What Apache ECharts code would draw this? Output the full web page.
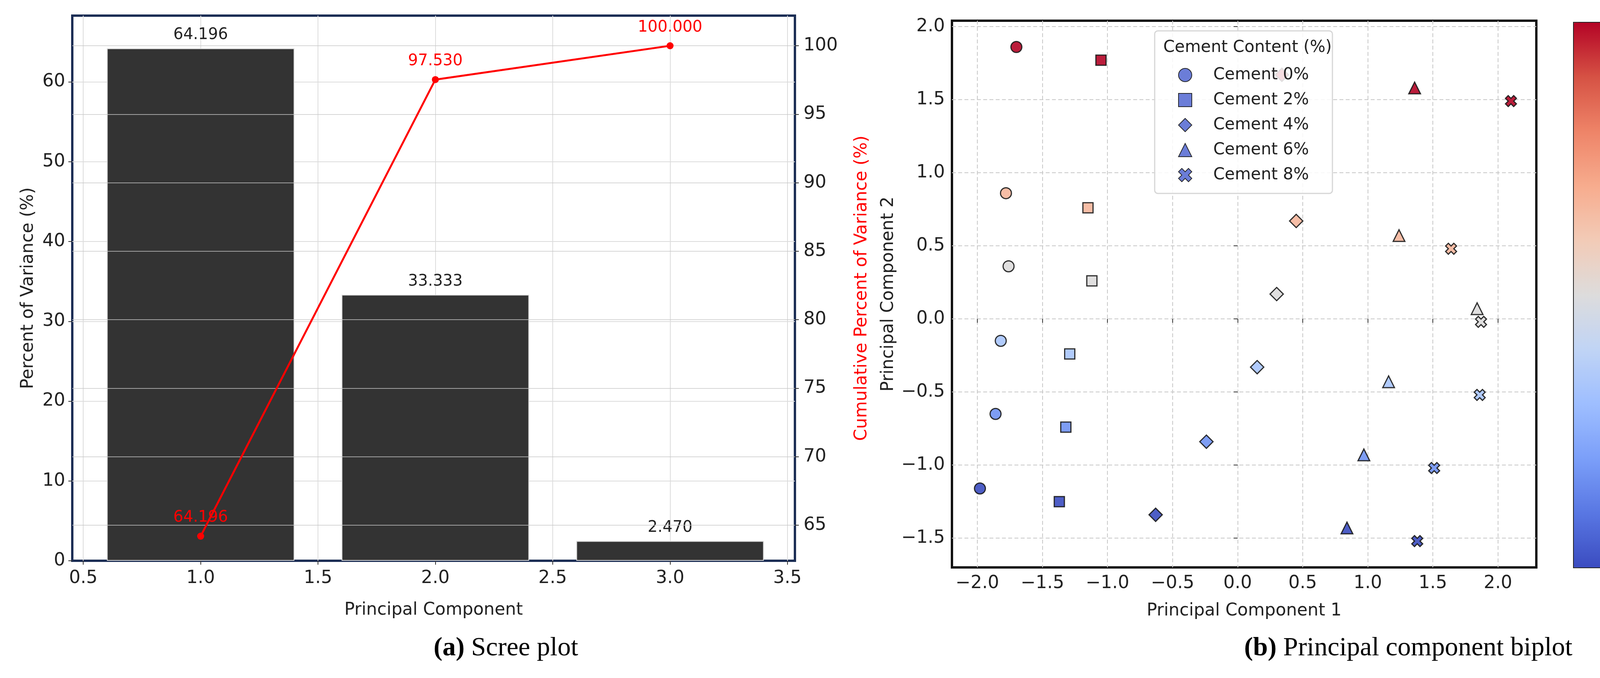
<!DOCTYPE html>
<html>
<head>
<meta charset="utf-8">
<script src="https://cdn.jsdelivr.net/npm/echarts@6/dist/echarts.min.js"></script>
<style>
html, body { margin: 0; padding: 0; background: #fff; overflow: hidden; }
#chart { width: 4270px; height: 1735px; }
</style>
</head>
<body>
<div id="chart"></div>
<script>
// scree plot
var components = [1, 2, 3]
var variance = [64.196, 33.333, 2.470]
var cumulative = [64.196, 97.530, 100.000]

// biplot: [PC1, PC2], one row per lime level
var limeLevels = [0, 5, 10, 15, 20, 30]
var cementNames = ['Cement 0%', 'Cement 2%', 'Cement 4%', 'Cement 6%', 'Cement 8%']
var cement0 = [[-1.98, -1.16], [-1.86, -0.65], [-1.82, -0.15], [-1.76, 0.36], [-1.78, 0.86], [-1.70, 1.86]]
var cement2 = [[-1.37, -1.25], [-1.32, -0.74], [-1.29, -0.24], [-1.12, 0.26], [-1.15, 0.76], [-1.05, 1.77]]
var cement4 = [[-0.63, -1.34], [-0.24, -0.84], [0.15, -0.33], [0.30, 0.17], [0.45, 0.67], [0.34, 1.67]]
var cement6 = [[0.84, -1.43], [0.97, -0.93], [1.16, -0.43], [1.84, 0.07], [1.24, 0.57], [1.36, 1.58]]
var cement8 = [[1.38, -1.52], [1.51, -1.02], [1.86, -0.52], [1.87, -0.02], [1.64, 0.48], [2.10, 1.49]]

var crossPath = 'path://M2.5,0L5,2.5L7.5,0L10,2.5L7.5,5L10,7.5L7.5,10L5,7.5L2.5,10L0,7.5L2.5,5L0,2.5Z'
var symbols = ['circle', 'rect', 'diamond', 'triangle', crossPath]
var sizes = [28, 26, 34, 30, 28]
var coolwarm = ['#3b4cc0', '#5977e3', '#7b9ff9', '#9ebeff', '#c0d4f5', '#dddcdc',
    '#f2cbb7', '#f7ac8e', '#ee8468', '#d65244', '#b40426']

var font = 'DejaVu Sans'
var txt = '#222'

var withLime = function(pts) {
    var out = []
    for (var i = 0; i < pts.length; i++) {
        out.push([pts[i][0], pts[i][1], limeLevels[i]])
    }
    return out
}
var fix1 = function(v) { return v.toFixed(1).replace('-', '\u2212') }

var gridLine = { show: true, showMinLine: false, showMaxLine: false, lineStyle: { color: '#dcdcdc', width: 2 } }
var dashLine = { show: true, showMinLine: false, showMaxLine: false, lineStyle: { color: '#c8c8c8', width: 2, type: [10, 6] } }
var tick = { show: true, length: 10, lineStyle: { color: '#333', width: 2 } }
var nameStyle = { fontFamily: font, fontSize: 44, color: txt }

var scatterSeries = []
var groups = [cement0, cement2, cement4, cement6, cement8]
for (var g = 0; g < groups.length; g++) {
    scatterSeries.push({
        name: cementNames[g],
        type: 'scatter',
        xAxisIndex: 1,
        yAxisIndex: 2,
        symbol: symbols[g],
        symbolSize: sizes[g],
        itemStyle: { color: '#5b6fd4', borderColor: '#1a1a1a', borderWidth: 3, opacity: 0.9 },
        data: withLime(groups[g]),
        z: 3
    })
}

var barData = [], lineData = []
for (var i = 0; i < components.length; i++) {
    barData.push([components[i], variance[i]])
    lineData.push([components[i], cumulative[i]])
}

var option = {
    backgroundColor: '#fff',
    animation: false,
    textStyle: { fontFamily: font },
    grid: [
        { left: 185, top: 40, width: 1850, height: 1395, show: true, borderColor: '#1c2e55', borderWidth: 6 },
        { left: 2437, top: 53, width: 1496, height: 1399, show: true, borderColor: '#111', borderWidth: 6 },
        { left: 4029, top: 58, width: 72, height: 1394, show: true, borderColor: '#222', borderWidth: 4 }
    ],
    xAxis: [
        {
            gridIndex: 0, type: 'value', min: 0.453, max: 3.532, splitNumber: 6,
            name: 'Principal Component', nameLocation: 'middle', nameGap: 105, nameTextStyle: nameStyle,
            axisLine: { show: false }, axisTick: tick,
            axisLabel: { fontFamily: font, fontSize: 46, color: txt, margin: 22, showMinLabel: false, showMaxLabel: false, formatter: fix1 },
            splitLine: gridLine
        },
        {
            gridIndex: 1, type: 'value', min: -2.195, max: 2.295, splitNumber: 9,
            name: 'Principal Component 1', nameLocation: 'middle', nameGap: 90, nameTextStyle: nameStyle,
            axisLine: { show: false }, axisTick: tick,
            axisLabel: { fontFamily: font, fontSize: 46, color: txt, margin: 18, showMinLabel: false, showMaxLabel: false, formatter: fix1 },
            splitLine: dashLine
        },
        { gridIndex: 2, type: 'value', show: false }
    ],
    yAxis: [
        {
            gridIndex: 0, type: 'value', min: 0, max: 68.3, splitNumber: 7,
            name: 'Percent of Variance (%)', nameLocation: 'middle', nameGap: 90, nameTextStyle: nameStyle,
            axisLine: { show: false }, axisTick: tick,
            axisLabel: { fontFamily: font, fontSize: 46, color: txt, margin: 18, showMaxLabel: false },
            splitLine: gridLine
        },
        {
            gridIndex: 0, type: 'value', position: 'right', min: 62.4, max: 102.2, splitNumber: 8,
            name: 'Cumulative Percent of Variance (%)', nameLocation: 'middle', nameGap: 150, nameRotate: 90,
            nameTextStyle: { fontFamily: font, fontSize: 44, color: '#ff0000' },
            axisLine: { show: false }, axisTick: tick,
            axisLabel: { fontFamily: font, fontSize: 46, color: txt, margin: 22, showMinLabel: false, showMaxLabel: false },
            splitLine: { show: true, showMinLine: false, showMaxLine: false, lineStyle: { color: 'rgba(200,200,200,0.75)', width: 2 } },
            z: 5
        },
        {
            gridIndex: 1, type: 'value', min: -1.70, max: 2.04, splitNumber: 8,
            name: 'Principal Component 2', nameLocation: 'middle', nameGap: 140, nameTextStyle: nameStyle,
            axisLine: { show: false }, axisTick: tick,
            axisLabel: { fontFamily: font, fontSize: 46, color: txt, margin: 18, showMinLabel: false, showMaxLabel: false, formatter: fix1 },
            splitLine: dashLine
        },
        {
            gridIndex: 2, type: 'value', position: 'right', min: 0, max: 30, splitNumber: 6,
            name: 'Lime Content (%)', nameLocation: 'middle', nameGap: 130, nameRotate: 90, nameTextStyle: nameStyle,
            axisLine: { show: false }, axisTick: { show: true, length: 12, lineStyle: { color: '#333', width: 2 } },
            axisLabel: { fontFamily: font, fontSize: 46, color: txt, margin: 22 },
            splitLine: { show: false }
        }
    ],
    visualMap: {
        type: 'continuous', min: 0, max: 30, dimension: 2,
        seriesIndex: [2, 3, 4, 5, 6],
        left: 4029, top: 58, itemWidth: 72, itemHeight: 1394, padding: 0,
        calculable: false, text: null, showLabel: false,
        inRange: { color: coolwarm },
        textStyle: { color: 'transparent' }
    },
    legend: {
        data: cementNames,
        orient: 'vertical',
        left: 2956, top: 79,
        padding: [92, 60, 26, 60],
        itemGap: 22,
        itemWidth: 34, itemHeight: 34,
        backgroundColor: 'rgba(255,255,255,0.85)',
        borderColor: '#d6d6d6', borderWidth: 3, borderRadius: 8,
        textStyle: { fontFamily: font, fontSize: 42, color: txt, padding: [0, 0, 0, 50] },
        z: 10
    },
    graphic: [
        { type: 'text', left: 2978, top: 101, z: 20,
          style: { text: 'Cement Content (%)', font: '42px DejaVu Sans', fill: txt } },
        { type: 'text', left: 1110, top: 1625, z: 20,
          style: { text: '{b|(a)} Scree plot', font: '68px Liberation Serif', fill: '#000', textAlign: 'center',
                   rich: { b: { font: 'bold 68px Liberation Serif', fill: '#000' } } } },
        { type: 'text', left: 3185, top: 1625, z: 20,
          style: { text: '{b|(b)} Principal component biplot', font: '68px Liberation Serif', fill: '#000', textAlign: 'center',
                   rich: { b: { font: 'bold 68px Liberation Serif', fill: '#000' } } } }
    ],
    series: [
        {
            type: 'bar', xAxisIndex: 0, yAxisIndex: 0,
            barWidth: 480,
            itemStyle: { color: '#333', borderColor: '#d8d8d8', borderWidth: 2 },
            label: { show: true, position: 'top', distance: 14, fontFamily: font, fontSize: 40, color: txt,
                formatter: function(p) { return p.value[1].toFixed(3) } },
            data: barData,
            z: 2
        },
        {
            type: 'line', xAxisIndex: 0, yAxisIndex: 1,
            symbol: 'circle', symbolSize: 18,
            lineStyle: { color: '#ff0000', width: 5 },
            itemStyle: { color: '#ff0000' },
            label: { show: true, position: 'top', distance: 18, fontFamily: font, fontSize: 40, color: '#ff0000',
                formatter: function(p) { return p.value[1].toFixed(3) } },
            data: lineData,
            z: 6
        }
    ].concat(scatterSeries)
}

echarts.init(document.getElementById('chart')).setOption(option)
</script>
</body>
</html>
